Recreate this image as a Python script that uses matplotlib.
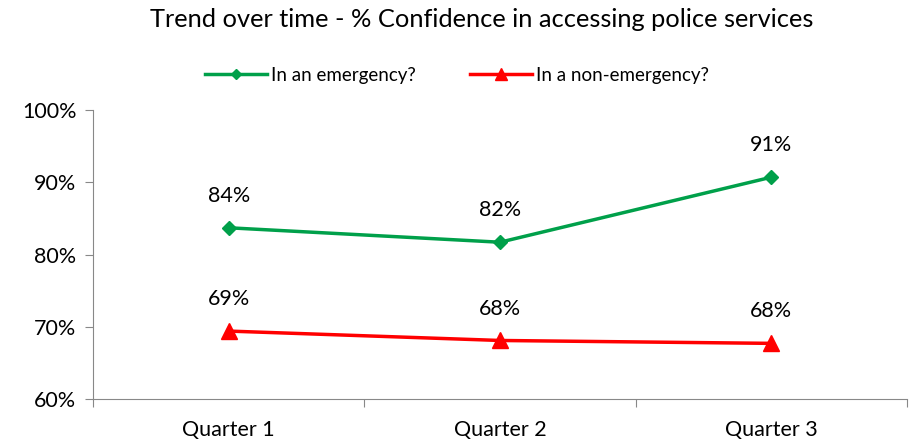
import matplotlib.pyplot as plt
import numpy as np

quarters = ["Quarter 1", "Quarter 2", "Quarter 3"]
emergency = [83.7, 81.7, 90.7]
non_emergency = [69.4, 68.1, 67.7]
emergency_labels = ["84%", "82%", "91%"]
non_emergency_labels = ["69%", "68%", "68%"]

plt.rcParams['font.family'] = ['Lato', 'DejaVu Sans']

fig = plt.figure(figsize=(9.1, 4.42), dpi=100)
ax = fig.add_axes([0.1022, 0.0973, 0.8945, 0.6538])

x = np.arange(len(quarters)) + 0.5
green = '#00A04A'
red = '#FF0000'

ax.plot(x, emergency, color=green, lw=2.5, marker='D', ms=7, label="In an emergency?")
ax.plot(x, non_emergency, color=red, lw=2.5, marker='^', ms=11, label="In a non-emergency?")

for xi, v, t in zip(x, emergency, emergency_labels):
    ax.annotate(t, (xi, v), xytext=(0, 23), textcoords='offset points',
                ha='center', va='center', fontsize=15.5)
for xi, v, t in zip(x, non_emergency, non_emergency_labels):
    ax.annotate(t, (xi, v), xytext=(0, 23), textcoords='offset points',
                ha='center', va='center', fontsize=15.5)

ax.set_xlim(0, 3)
ax.set_ylim(60, 100)
ax.set_yticks([60, 70, 80, 90, 100])
ax.set_yticklabels(["60%", "70%", "80%", "90%", "100%"], fontsize=15.5)
ax.set_xticks([0, 1, 2, 3])
ax.set_xticklabels([])
ax.set_xticks(x, minor=True)
ax.set_xticklabels(quarters, minor=True, fontsize=15.5)
ax.tick_params(axis='x', which='minor', length=0, pad=15)
ax.tick_params(axis='both', which='major', length=6, color='#888888')
ax.tick_params(axis='y', pad=6)

for s in ['top', 'right']:
    ax.spines[s].set_visible(False)
for s in ['left', 'bottom']:
    ax.spines[s].set_color('#888888')

fig.text(0.529, 0.955, "Trend over time - % Confidence in accessing police services",
         ha='center', va='center', fontsize=18.3)
fig.legend(loc='center', bbox_to_anchor=(0.502, 0.83), ncol=2, frameon=False,
           fontsize=13.5, handlelength=3.3, columnspacing=2.9, handletextpad=0.2,
           markerscale=0.75)

fig.savefig("out.png", dpi=100)
